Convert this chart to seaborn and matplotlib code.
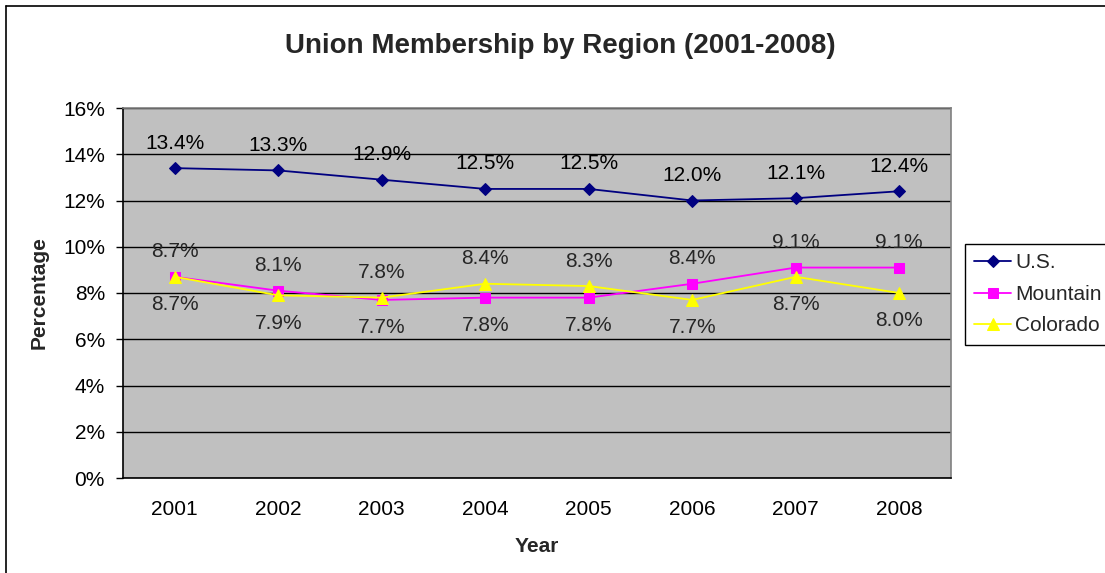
import matplotlib
matplotlib.use("Agg")
import matplotlib.pyplot as plt
from matplotlib.lines import Line2D
from matplotlib.ticker import FuncFormatter, FixedLocator
import numpy as np
import pandas as pd
import seaborn as sns

years = ["2001", "2002", "2003", "2004", "2005", "2006", "2007", "2008"]
us = [13.4, 13.3, 12.9, 12.5, 12.5, 12.0, 12.1, 12.4]
mountain = [8.7, 8.1, 7.7, 7.8, 7.8, 8.4, 9.1, 9.1]
colorado = [8.7, 7.9, 7.8, 8.4, 8.3, 7.7, 8.7, 8.0]
series_names = ["U.S.", "Mountain", "Colorado"]

df = pd.DataFrame({
    "Year": years * 3,
    "Percentage": us + mountain + colorado,
    "Series": [n for n in series_names for _ in years],
})

sns.set_theme(style="white")
plt.rcParams["font.family"] = ["Liberation Sans", "DejaVu Sans"]
FS = 15

palette = {"U.S.": "#000080", "Mountain": "#FF00FF", "Colorado": "#FFFF00"}
markers = {"U.S.": "D", "Mountain": "s", "Colorado": "^"}
msizes = {"U.S.": 6, "Mountain": 7, "Colorado": 8}

fig = plt.figure(figsize=(11.05, 5.73), dpi=100)
W, H = 1105, 573
ax = fig.add_axes([123 / W, 1 - 478 / H, 828 / W, 370 / H])
ax.set_facecolor("#C0C0C0")

for name in series_names:
    sub = df[df["Series"] == name]
    sns.lineplot(data=sub, x="Year", y="Percentage", ax=ax, color=palette[name],
                 marker=markers[name], markersize=msizes[name],
                 markeredgecolor=palette[name], linewidth=1.3, label=name,
                 sort=False, zorder=3)

ax.set_xlim(-0.5, len(years) - 0.5)
ax.set_ylim(0, 16)
ax.set_yticks(np.arange(0, 17, 2))
ax.yaxis.set_major_formatter(FuncFormatter(lambda v, p: f"{v:.0f}%"))
ax.set_xticks(range(len(years)))
ax.set_xticklabels(years)
ax.xaxis.set_minor_locator(FixedLocator(np.arange(-0.5, len(years), 1.0)))
ax.tick_params(axis="x", which="major", length=0, pad=16, labelsize=FS, colors="black")
ax.tick_params(axis="x", which="minor", length=5, width=1, direction="out", color="black")
ax.tick_params(axis="y", which="major", length=5, width=1, direction="out",
               pad=8, labelsize=FS, colors="black", left=True)
ax.grid(axis="y", color="black", linewidth=1)
ax.set_axisbelow(True)

for side in ["left", "bottom"]:
    ax.spines[side].set_color("black")
    ax.spines[side].set_linewidth(1.2)
for side in ["top", "right"]:
    ax.spines[side].set_color("#808080")
    ax.spines[side].set_linewidth(1.2)

ax.set_xlabel("Year", fontsize=FS, fontweight="bold", labelpad=13)
ax.set_ylabel("Percentage", fontsize=FS, fontweight="bold", labelpad=10)
fig.suptitle("Union Membership by Region (2001-2008)", fontsize=20,
             fontweight="bold", x=560 / W, y=1 - 46 / H, va="center")

# value labels: U.S. above; of the two regional series, the higher one above
ABOVE, BELOW = 25, -28
for i, v in enumerate(us):
    ax.annotate(f"{v:.1f}%", (i, v), xytext=(0, ABOVE), textcoords="offset pixels",
                ha="center", va="center", fontsize=FS, color="black")
for i, (m, c) in enumerate(zip(mountain, colorado)):
    m_up = m >= c
    ax.annotate(f"{m:.1f}%", (i, m), xytext=(0, ABOVE if m_up else BELOW),
                textcoords="offset pixels", ha="center", va="center", fontsize=FS)
    ax.annotate(f"{c:.1f}%", (i, c), xytext=(0, BELOW if m_up else ABOVE),
                textcoords="offset pixels", ha="center", va="center", fontsize=FS)

leg = ax.legend(loc="upper left", bbox_to_anchor=(965 / W, 1 - 244 / H),
                bbox_transform=fig.transFigure, borderaxespad=0, frameon=True,
                fancybox=False, edgecolor="black", fontsize=FS, handlelength=1.75,
                handletextpad=0.2, labelspacing=0.6, borderpad=0.45)
leg.get_frame().set_linewidth(1.0)
leg.get_frame().set_facecolor("white")
leg.get_frame().set_alpha(1)

# chart area outline (left and top edges)
fig.add_artist(Line2D([6 / W, 6 / W], [0, 1 - 6 / H], color="black", linewidth=1.2,
                      transform=fig.transFigure))
fig.add_artist(Line2D([6 / W, 1], [1 - 6 / H, 1 - 6 / H], color="black", linewidth=1.2,
                      transform=fig.transFigure))

fig.savefig("out.png", dpi=100)
